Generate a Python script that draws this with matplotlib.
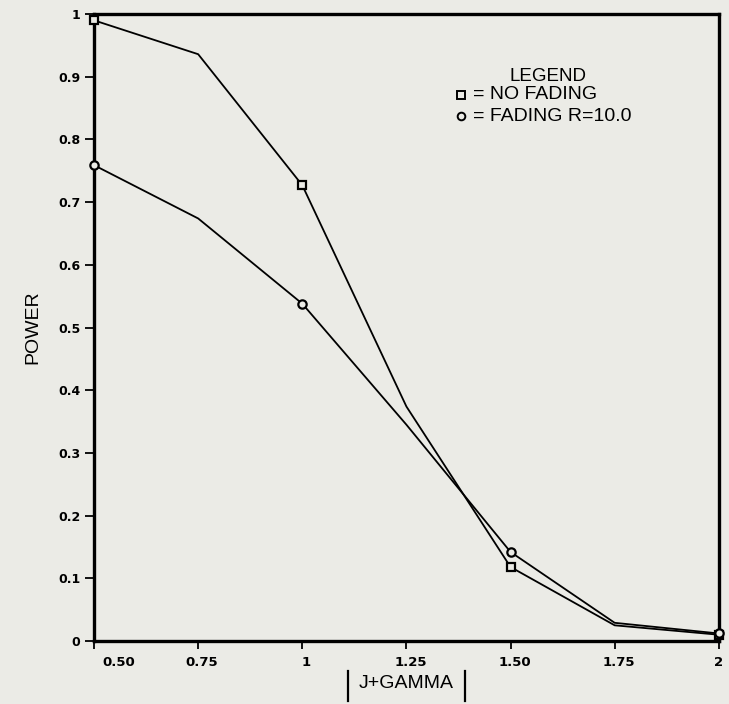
import matplotlib
matplotlib.use("Agg")
import matplotlib.pyplot as plt
from matplotlib import font_manager
from matplotlib.transforms import ScaledTranslation, blended_transform_factory

# |J+GAMMA| values and detection power for the two channel models
gamma = [0.5, 0.75, 1.0, 1.25, 1.5, 1.75, 2.0]
power_no_fading = [0.990, 0.936, 0.727, 0.374, 0.118, 0.025, 0.010]
power_fading = [0.759, 0.674, 0.538, 0.345, 0.142, 0.029, 0.012]

x_ticks = [0.5, 0.75, 1.0, 1.25, 1.5, 1.75, 2.0]
x_tick_labels = ["0.50", "0.75", "1", "1.25", "1.50", "1.75", "2"]
y_ticks = [0, 0.1, 0.2, 0.3, 0.4, 0.5, 0.6, 0.7, 0.8, 0.9, 1.0]
y_tick_labels = ["0", "0.1", "0.2", "0.3", "0.4", "0.5", "0.6", "0.7", "0.8", "0.9", "1"]

legend_title = "LEGEND"
legend_entries = ["= NO FADING", "= FADING R=10.0"]

available = {f.name for f in font_manager.fontManager.ttflist}
narrow = "Liberation Sans Narrow" if "Liberation Sans Narrow" in available else "Liberation Sans"

bg = "#ebebe6"
fig = plt.figure(figsize=(7.29, 7.04), dpi=100, facecolor=bg)
ax = fig.add_axes([0.129, 0.0895, 0.857, 0.8905], facecolor=bg)

line_kw = dict(color="black", lw=1.3, markevery=2, markersize=6,
               markeredgewidth=1.6, markerfacecolor=bg, clip_on=False, zorder=3)
ax.plot(gamma, power_no_fading, marker="s", **line_kw)
ax.plot(gamma, power_fading, marker="o", **line_kw)

ax.set_xlim(0.5, 2.0)
ax.set_ylim(0, 1.0)

for side in ax.spines.values():
    side.set_linewidth(2.4)
    side.set_color("black")

ax.set_xticks(x_ticks)
ax.set_xticklabels(x_tick_labels, fontsize=9.5, fontweight="bold")
ax.set_yticks(y_ticks)
ax.set_yticklabels(y_tick_labels, fontsize=9, fontweight="bold")
ax.tick_params(axis="x", direction="out", length=6, width=1.3, pad=5)
ax.tick_params(axis="y", direction="out", length=6.5, width=1.3, pad=3.5)

# tick labels sit slightly right of their ticks
for i, lbl in enumerate(ax.get_xticklabels()):
    dx = 25 if i == 0 else (0 if i == len(x_ticks) - 1 else 4)
    lbl.set_transform(lbl.get_transform() + ScaledTranslation(dx / 100, 0, fig.dpi_scale_trans))

ax.set_ylabel("POWER", fontsize=14, family=narrow, labelpad=12)

# x axis label with tall bars around it
xl_tr = blended_transform_factory(ax.transData, ax.transAxes)
xl = ax.text(1.25, -0.068, "J+GAMMA", transform=xl_tr, ha="center", va="center",
             fontsize=14, family=narrow)
fig.canvas.draw()
bb = xl.get_window_extent()
inv = fig.transFigure.inverted()
(x0, y0), (x1, y1) = inv.transform([(bb.x0 - 11, bb.y0), (bb.x1 + 11, bb.y1)])
yc = (y0 + y1) / 2
for xb in (x0, x1):
    fig.add_artist(plt.Line2D([xb, xb], [yc - 0.024, yc + 0.018],
                              transform=fig.transFigure, color="black", lw=1.6))

# legend block
ax.text(0.726, 0.900, legend_title, transform=ax.transAxes, ha="center", va="center",
        fontsize=13.5, family=narrow)
for yk, mk, label in [(0.871, "s", legend_entries[0]), (0.837, "o", legend_entries[1])]:
    ax.plot([0.588], [yk], marker=mk, transform=ax.transAxes, markersize=5.5,
            markeredgewidth=1.4, markerfacecolor=bg, color="black", linestyle="none")
    ax.text(0.606, yk, label, transform=ax.transAxes, ha="left", va="center",
            fontsize=14, family=narrow)

fig.savefig("out.png", dpi=100, facecolor=bg)
